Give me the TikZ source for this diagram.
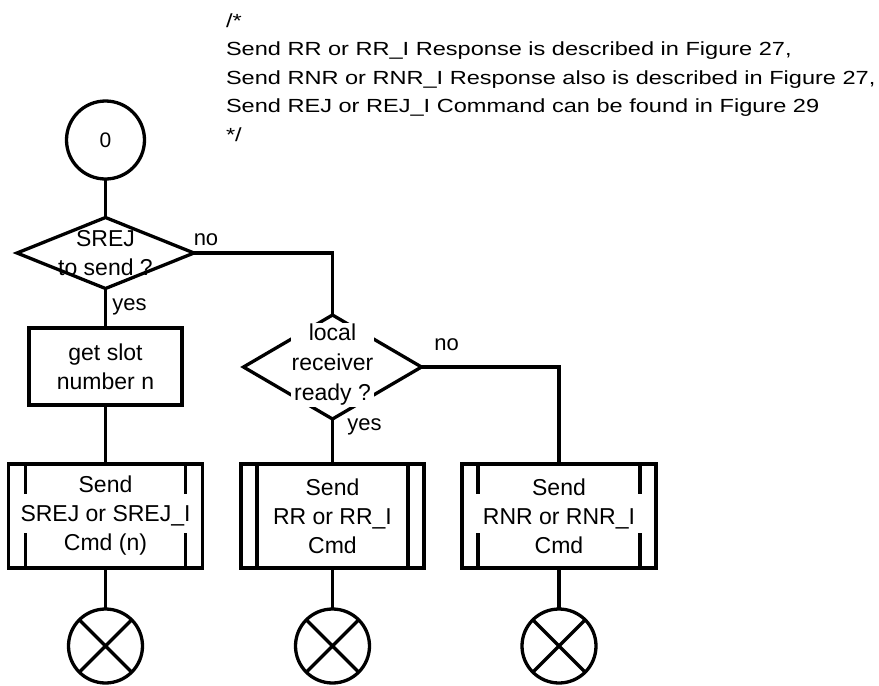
\documentclass[tikz,border=0pt]{standalone}
\usepackage{fontspec}
\setmainfont{Liberation Sans}
\newfontfamily\cmtfont{Liberation Sans}[FakeStretch=1.24]
\usetikzlibrary{shapes.geometric,calc}
\begin{document}
\begin{tikzpicture}[x=1pt,y=-1pt,
  every node/.style={outer sep=0pt},
  shp/.style={draw=black, line width=3.3pt},
  txt/.style={font=\fontsize{23}{29}\selectfont, align=center, inner sep=0pt},
  lbl/.style={font=\fontsize{22}{26}\selectfont, inner sep=0pt},
  cmt/.style={font=\cmtfont\fontsize{19}{28.5}\selectfont, anchor=base west, inner sep=0pt},
  dia/.style={shp, diamond, inner sep=0pt},
  procbox/.style={shp, rectangle, minimum height=104pt, inner sep=0pt},
  endc/.style={shp, circle, minimum size=74pt, inner sep=0pt},
  conn/.style={line width=3.3pt},
]
\useasboundingbox (0,0) rectangle (879,686);

% comment block
\node[cmt] (k1) at (226,27) {/*};
\node[cmt] (k2) at (226,55.5) {Send RR or RR\_I Response is described in Figure 27,};
\node[cmt] (k3) at (226,84) {Send RNR or RNR\_I Response also is described in Figure 27,};
\node[cmt] (k4) at (226,112.5) {Send REJ or REJ\_I Command can be found in Figure 29};
\node[cmt] (k5) at (226,141) {*/};

% start
\node[shp, circle, minimum size=78pt, inner sep=0pt, font=\fontsize{21}{25}\selectfont] (s0) at (105.5,140) {0};

% decision 1
\node[dia, minimum width=177pt, minimum height=71pt] (d1) at (105.5,253) {};
\node[txt] (d1t) at (105.5,253.5) {SREJ\\to send ?};

% get slot
\node[shp, rectangle, txt, minimum width=153pt, minimum height=77pt] (g) at (105.5,366.5) {get slot\\number n};

% decision 2
\node[dia, minimum width=178pt, minimum height=104pt] (d2) at (332.5,367) {};
\node[txt, font=\fontsize{23}{30}\selectfont, fill=white, inner sep=1pt] (d2t) at (332.5,365) {local\\receiver\\ready ?};

% process boxes
\node[procbox, txt, minimum width=194pt] (b1) at (105.5,516) {Send\\SREJ or SREJ\_I\\Cmd (n)};
\node[procbox, txt, minimum width=183pt] (b2) at (332.5,516) {Send\\RR or RR\_I\\Cmd};
\node[procbox, txt, minimum width=194pt] (b3) at (559,516) {Send\\RNR or RNR\_I\\Cmd};

% side bars
\draw[conn] ($(b1.north west)+(17,0)$) -- ++(0,30) ($(b1.south west)+(17,0)$) -- ++(0,-35);
\draw[conn] ($(b1.north east)+(-17,0)$) -- ++(0,30) ($(b1.south east)+(-17,0)$) -- ++(0,-35);
\draw[conn] ($(b2.north west)+(16,0)$) -- ($(b2.south west)+(16,0)$);
\draw[conn] ($(b2.north east)+(-16,0)$) -- ($(b2.south east)+(-16,0)$);
\draw[conn] ($(b3.north west)+(16,0)$) -- ++(0,30) ($(b3.south west)+(16,0)$) -- ++(0,-35);
\draw[conn] ($(b3.north east)+(-16,0)$) -- ++(0,30) ($(b3.south east)+(-16,0)$) -- ++(0,-35);

% end circles
\node[endc] (e1) at (105.5,646) {};
\node[endc] (e2) at (332.5,646) {};
\node[endc] (e3) at (559,646) {};
\draw[conn] (e1.north west) -- (e1.south east) (e1.north east) -- (e1.south west);
\draw[conn] (e2.north west) -- (e2.south east) (e2.north east) -- (e2.south west);
\draw[conn] (e3.north west) -- (e3.south east) (e3.north east) -- (e3.south west);

% connectors
\draw[conn] (s0.south) -- (d1.north);
\draw[conn] (d1.south) -- (g.north);
\draw[conn] (g.south) -- (b1.north);
\draw[conn] (b1.south) -- (e1.north);
\draw[conn] (d1.east) -| (d2.north);
\draw[conn] (d2.south) -- (b2.north);
\draw[conn] (b2.south) -- (e2.north);
\draw[conn] (d2.east) -| (b3.north);
\draw[conn] (b3.south) -- (e3.north);

% labels
\node[lbl] (n1) at (206,240) {no};
\node[lbl] (y1) at (129.5,306.5) {yes};
\node[lbl] (y2) at (364.5,426.5) {yes};
\node[lbl] (n2) at (446.5,345) {no};
\end{tikzpicture}
\end{document}
